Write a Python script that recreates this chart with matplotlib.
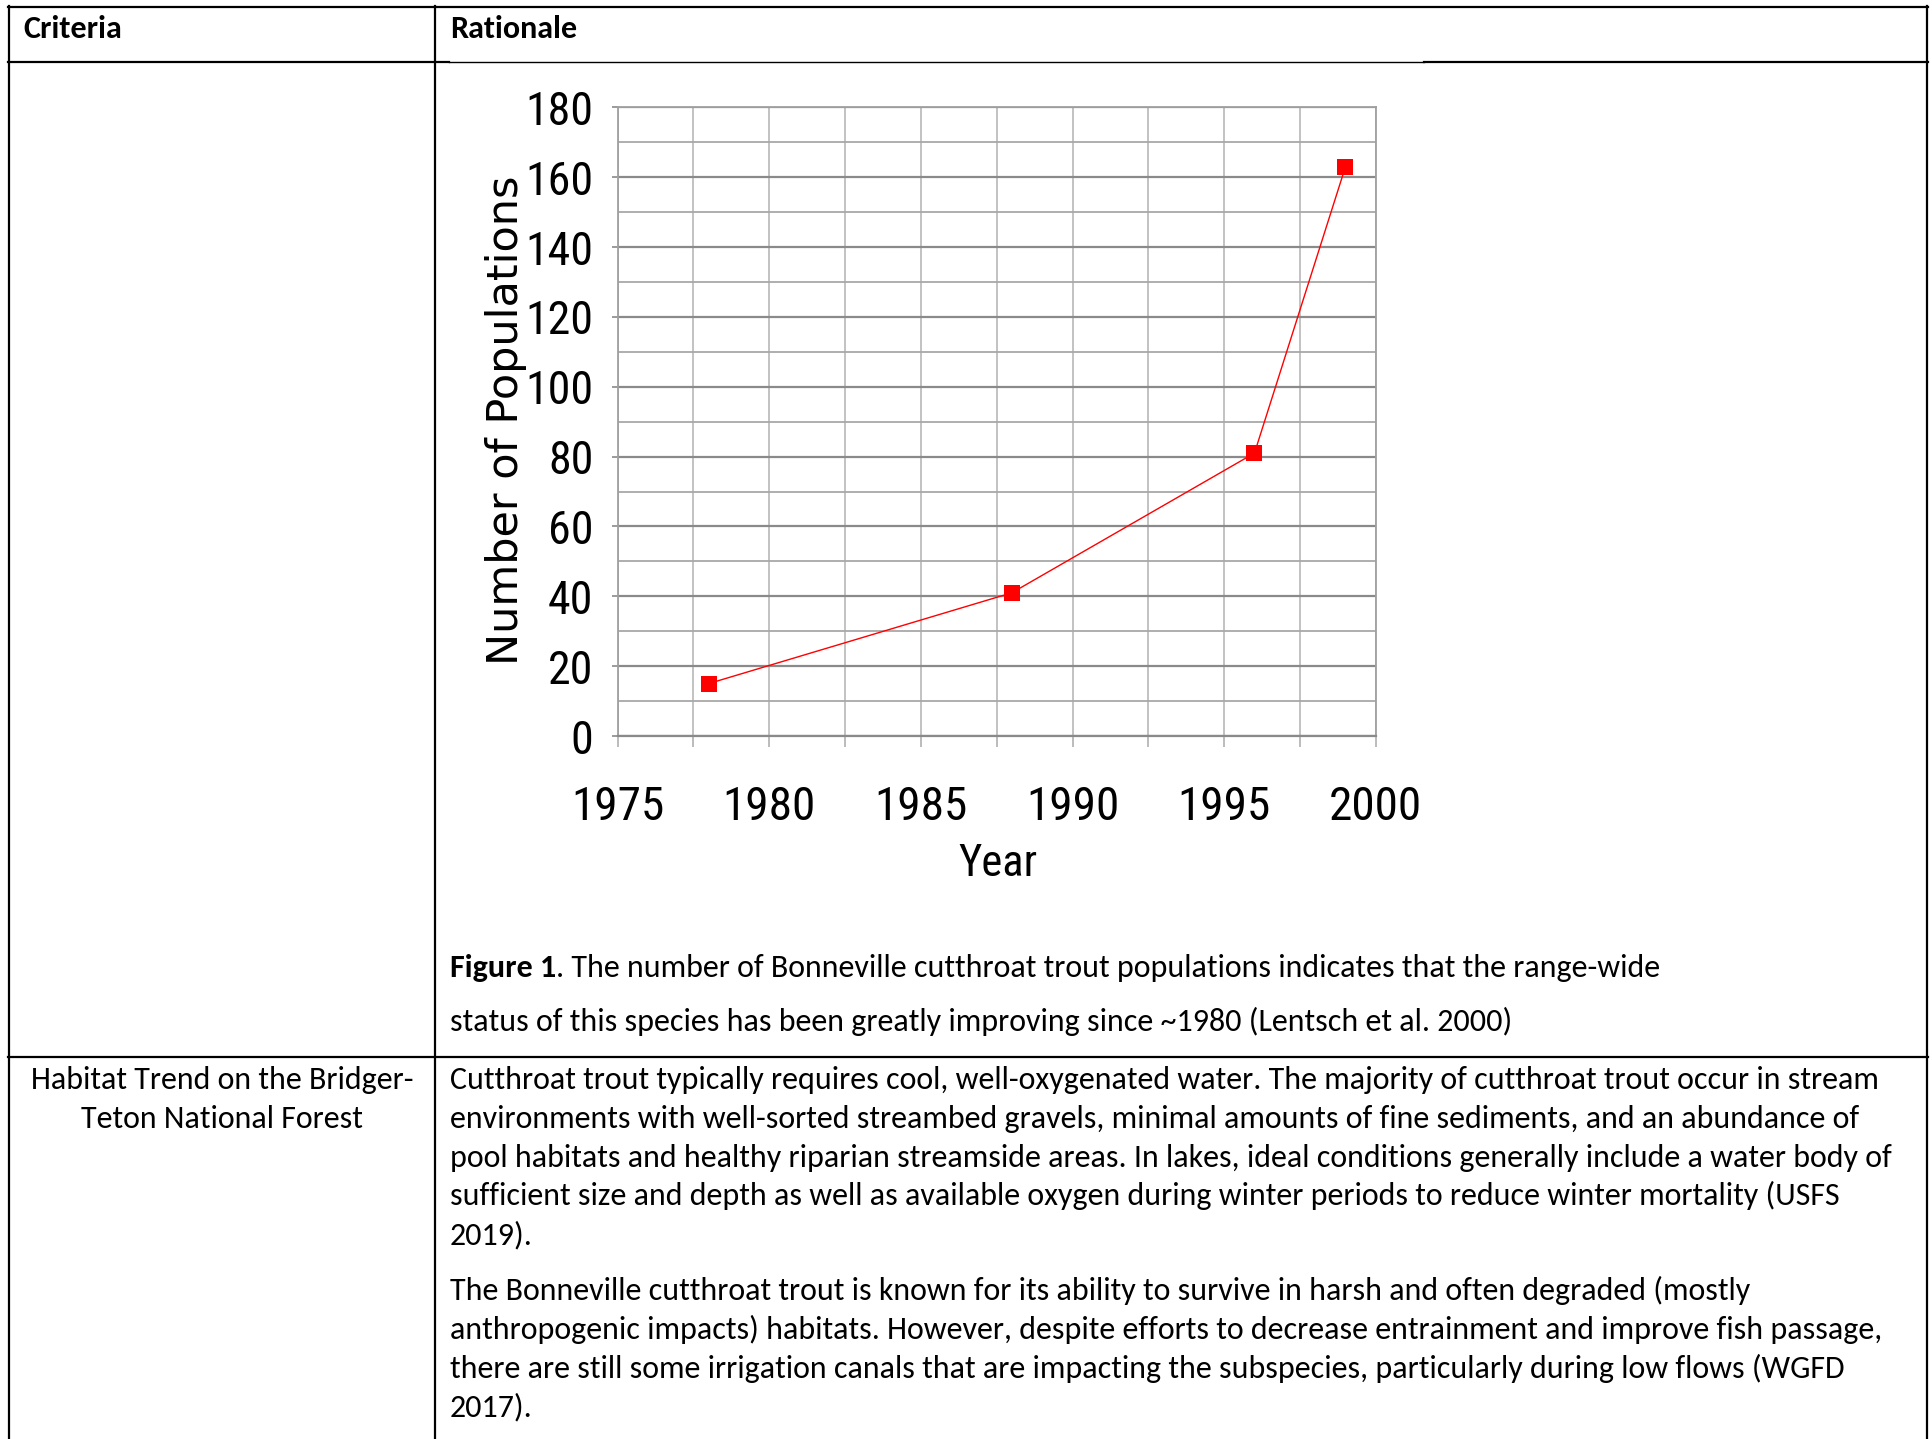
import matplotlib
matplotlib.use("Agg")
import matplotlib.pyplot as plt
from matplotlib.lines import Line2D
from matplotlib.ticker import MultipleLocator

# =========================
# data
# =========================
years = [1978, 1988, 1996, 1999]
populations = [15, 41, 81, 163]

x_ticks = [1975, 1980, 1985, 1990, 1995, 2000]
y_ticks = [0, 20, 40, 60, 80, 100, 120, 140, 160, 180]

header_left = "Criteria"
header_right = "Rationale"

caption_bold = "Figure 1"
caption_lines = [
    ". The number of Bonneville cutthroat trout populations indicates that the range-wide",
    "status of this species has been greatly improving since ~1980 (Lentsch et al. 2000)",
]

criteria_lines = ["Habitat Trend on the Bridger-", "Teton National Forest"]

para1 = [
    "Cutthroat trout typically requires cool, well-oxygenated water. The majority of cutthroat trout occur in stream",
    "environments with well-sorted streambed gravels, minimal amounts of fine sediments, and an abundance of",
    "pool habitats and healthy riparian streamside areas. In lakes, ideal conditions generally include a water body of",
    "sufficient size and depth as well as available oxygen during winter periods to reduce winter mortality (USFS",
    "2019).",
]
para2 = [
    "The Bonneville cutthroat trout is known for its ability to survive in harsh and often degraded (mostly",
    "anthropogenic impacts) habitats. However, despite efforts to decrease entrainment and improve fish passage,",
    "there are still some irrigation canals that are impacting the subspecies, particularly during low flows (WGFD",
    "2017).",
]

# =========================
# style
# =========================
W, H = 1933, 1439
CHART_FONT = ["Roboto Condensed", "Liberation Sans"]
DOC_FONT = ["Carlito", "Lato", "DejaVu Sans"]
DOC_SIZE = 23


def fx(x):
    return x / W


def fy(y):
    return 1 - y / H


fig = plt.figure(figsize=(W / 100, H / 100), dpi=100)
fig.patch.set_facecolor("white")

# =========================
# table lines
# =========================
def hline(y, x0, x1, lw=1.6):
    fig.add_artist(Line2D([fx(x0), fx(x1)], [fy(y), fy(y)], color="black", lw=lw,
                          transform=fig.transFigure))


def vline(x, y0, y1, lw=1.6):
    fig.add_artist(Line2D([fx(x), fx(x)], [fy(y0), fy(y1)], color="black", lw=lw,
                          transform=fig.transFigure))


hline(6.5, 8, 1928)
hline(62, 8, 449)
hline(62, 449, 1424, lw=1.0)
hline(62, 1424, 1928)
hline(1056.5, 8, 1928)
vline(8.6, 6, H)
vline(435, 6, H)
vline(1927, 6, H)

# =========================
# table text
# =========================
fig.text(fx(23), fy(38.5), header_left, family=DOC_FONT, weight="bold", size=DOC_SIZE, va="baseline")
fig.text(fx(450), fy(38.5), header_right, family=DOC_FONT, weight="bold", size=DOC_SIZE, va="baseline")

for i, line in enumerate(criteria_lines):
    fig.text(fx(222), fy(1089 + i * 39), line, family=DOC_FONT, size=DOC_SIZE,
             ha="center", va="baseline")

for i, line in enumerate(para1):
    fig.text(fx(450), fy(1089 + i * 38.8), line, family=DOC_FONT, size=DOC_SIZE, va="baseline")

for i, line in enumerate(para2):
    fig.text(fx(450), fy(1300 + i * 38.8), line, family=DOC_FONT, size=DOC_SIZE, va="baseline")

renderer = fig.canvas.get_renderer()
tb = fig.text(fx(450), fy(977), caption_bold, family=DOC_FONT, weight="bold", size=DOC_SIZE,
              va="baseline")
bb = tb.get_window_extent(renderer)
fig.text(bb.x1 / W, fy(977), caption_lines[0], family=DOC_FONT, size=DOC_SIZE, va="baseline")
fig.text(fx(450), fy(1031), caption_lines[1], family=DOC_FONT, size=DOC_SIZE, va="baseline")

# =========================
# chart
# =========================
left, right, top, bottom = 617.6, 1375.8, 107.3, 736.0
ax = fig.add_axes([fx(left), fy(bottom), (right - left) / W, (bottom - top) / H])

ax.plot(years, populations, color="#ff0000", lw=1.0, marker="s", markersize=11,
        markeredgewidth=0, zorder=5)

ax.set_xlim(1975, 2000)
ax.set_ylim(0, 180)
ax.set_xticks(x_ticks)
ax.set_yticks(y_ticks)
ax.xaxis.set_minor_locator(MultipleLocator(2.5))
ax.yaxis.set_minor_locator(MultipleLocator(10))

ax.grid(which="major", axis="y", color="#8a8a8a", lw=1.6)
ax.grid(which="minor", axis="y", color="#a8a8a8", lw=1.3)
ax.grid(which="both", axis="x", color="#bdbdbd", lw=1.3)
ax.set_axisbelow(True)

for s in ax.spines.values():
    s.set_color("#a0a0a0")
    s.set_linewidth(1.3)
ax.spines["bottom"].set_color("#8a8a8a")
ax.spines["bottom"].set_linewidth(1.6)

ax.tick_params(axis="y", which="major", length=4.5, width=1.2, color="#8a8a8a", pad=13,
               labelsize=33)
ax.tick_params(axis="y", which="minor", length=0)
ax.tick_params(axis="x", which="both", length=8, width=1.2, color="#b0b0b0", pad=27,
               labelsize=34)
for lab in ax.get_xticklabels() + ax.get_yticklabels():
    lab.set_family(CHART_FONT)

fig.text(fx(506), fy(420), "Number of Populations", family="DejaVu Sans", size=31,
         rotation=90, ha="center", va="center")
fig.text(fx(998), fy(864), "Year", family=CHART_FONT, size=32, ha="center", va="center")

fig.savefig("out.png", dpi=100, facecolor="white")
